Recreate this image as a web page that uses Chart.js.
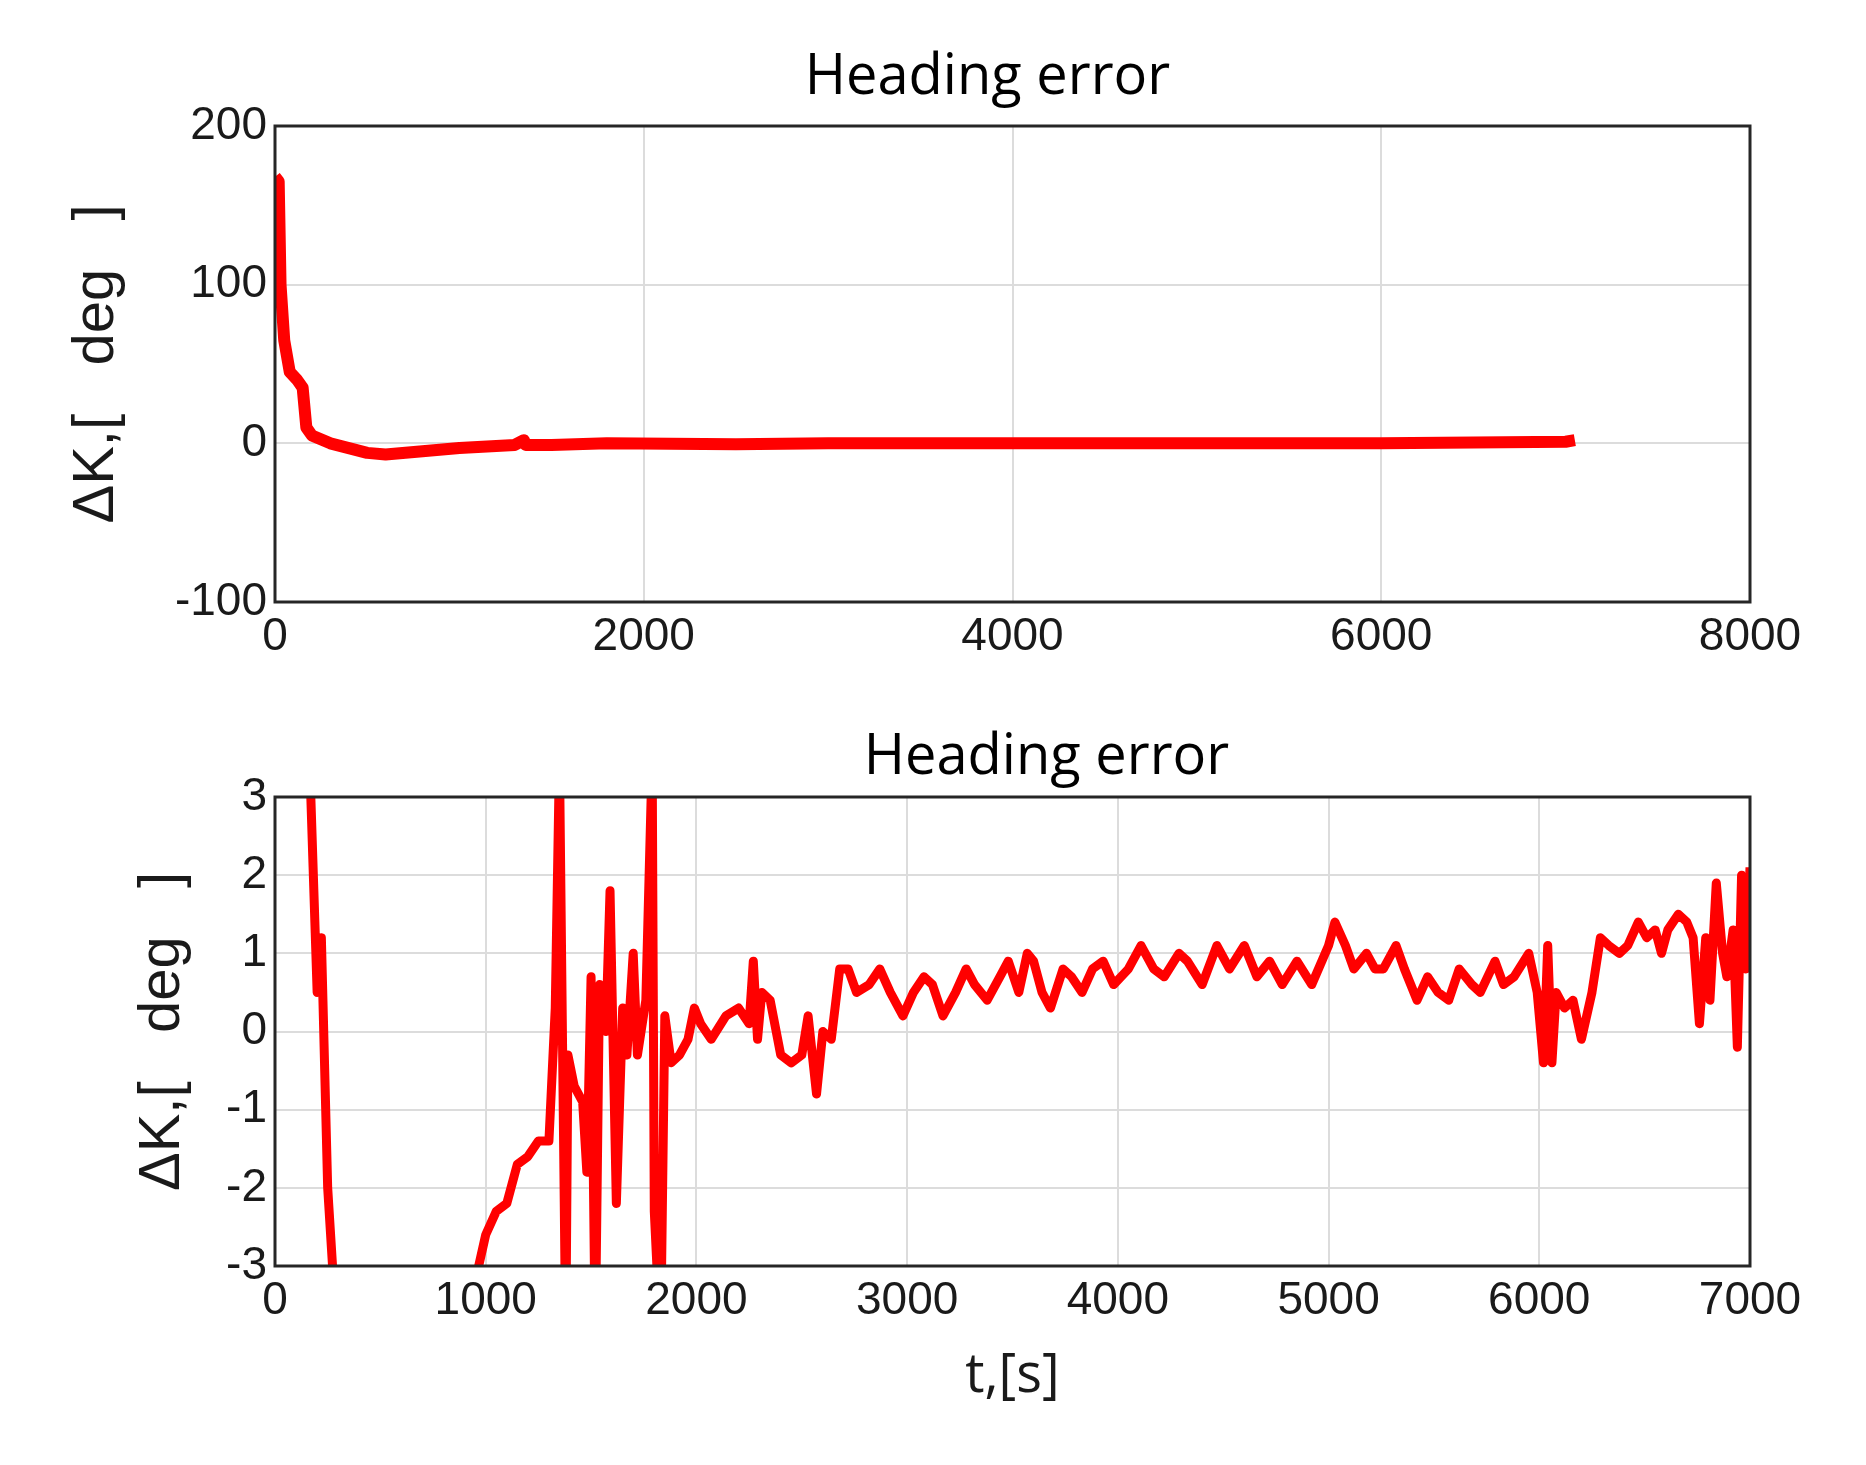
<!DOCTYPE html>
<html>
<head>
<meta charset="utf-8">
<script src="https://cdn.jsdelivr.net/npm/chart.js@4.4.1/dist/chart.umd.min.js"></script>
<style>
  body { margin: 0; background: #fff; }
  .box { position: absolute; left: 0; width: 1866px; }
</style>
</head>
<body>
<div class="box" style="top:0;height:700px"><canvas id="topChart"></canvas></div>
<div class="box" style="top:700px;height:765px"><canvas id="bottomChart"></canvas></div>
<script>
// top panel: full time history
const topTime = [0, 20, 30, 50, 80, 120, 150, 170, 200, 300, 400, 500, 600, 800, 1000, 1300, 1350, 1360, 1500, 1800, 2500, 3000, 4000, 5000, 6000, 6500, 7000, 7050];
const topErr = [168, 165, 100, 65, 45, 40, 35, 10, 5, 0, -3, -6, -7, -5, -3, -1, 2, -1, -1, 0, -0.5, 0, 0, 0, 0, 0.5, 1, 2];
const topXTicks = [0, 2000, 4000, 6000, 8000];
const topYTicks = [-100, 0, 100, 200];

// bottom panel: zoomed view
const botTime = [150, 170, 200, 220, 250, 280, 300, 400, 700, 950, 1000, 1050, 1100, 1150, 1200, 1250, 1300, 1330, 1350, 1380, 1390, 1420, 1460, 1480, 1500, 1520, 1540, 1570, 1590, 1620, 1650, 1670, 1700, 1720, 1760, 1790, 1800, 1830, 1850, 1880, 1920, 1960, 1990, 2020, 2070, 2140, 2200, 2250, 2270, 2290, 2310, 2350, 2400, 2450, 2500, 2530, 2570, 2600, 2640, 2680, 2720, 2760, 2820, 2870, 2920, 2980, 3030, 3080, 3120, 3170, 3230, 3280, 3320, 3380, 3440, 3480, 3530, 3570, 3600, 3640, 3680, 3740, 3780, 3830, 3880, 3930, 3980, 4050, 4110, 4170, 4220, 4290, 4330, 4400, 4470, 4530, 4600, 4660, 4720, 4780, 4850, 4920, 5000, 5030, 5080, 5120, 5180, 5220, 5260, 5320, 5360, 5420, 5470, 5520, 5570, 5620, 5680, 5720, 5790, 5830, 5880, 5950, 5990, 6020, 6040, 6060, 6080, 6120, 6160, 6200, 6250, 6290, 6330, 6380, 6420, 6470, 6510, 6550, 6580, 6610, 6660, 6700, 6730, 6760, 6790, 6810, 6840, 6870, 6890, 6920, 6940, 6960, 6980, 7000];
const botErr = [3.2, 3, 0.5, 1.2, -2, -3.3, -5, -8, -6, -3.2, -2.6, -2.3, -2.2, -1.7, -1.6, -1.4, -1.4, 0.3, 3.5, -4, -0.3, -0.7, -0.9, -1.8, 0.7, -4, 0.6, 0, 1.8, -2.2, 0.3, -0.3, 1, -0.3, 0.4, 3.5, -2.3, -4, 0.2, -0.4, -0.3, -0.1, 0.3, 0.1, -0.1, 0.2, 0.3, 0.1, 0.9, -0.1, 0.5, 0.4, -0.3, -0.4, -0.3, 0.2, -0.8, 0, -0.1, 0.8, 0.8, 0.5, 0.6, 0.8, 0.5, 0.2, 0.5, 0.7, 0.6, 0.2, 0.5, 0.8, 0.6, 0.4, 0.7, 0.9, 0.5, 1.0, 0.9, 0.5, 0.3, 0.8, 0.7, 0.5, 0.8, 0.9, 0.6, 0.8, 1.1, 0.8, 0.7, 1.0, 0.9, 0.6, 1.1, 0.8, 1.1, 0.7, 0.9, 0.6, 0.9, 0.6, 1.1, 1.4, 1.1, 0.8, 1.0, 0.8, 0.8, 1.1, 0.8, 0.4, 0.7, 0.5, 0.4, 0.8, 0.6, 0.5, 0.9, 0.6, 0.7, 1.0, 0.5, -0.4, 1.1, -0.4, 0.5, 0.3, 0.4, -0.1, 0.5, 1.2, 1.1, 1.0, 1.1, 1.4, 1.2, 1.3, 1.0, 1.3, 1.5, 1.4, 1.2, 0.1, 1.2, 0.4, 1.9, 1.0, 0.7, 1.3, -0.2, 2.0, 0.8, 2.1];
const botXTicks = [0, 1000, 2000, 3000, 4000, 5000, 6000, 7000];
const botYTicks = [-3, -2, -1, 0, 1, 2, 3];

const tickFont = { family: 'Liberation Sans, Arial, sans-serif', size: 46 };

// frame around the plot area plus the panel title (placed off-centre like the original)
const frame = {
    id: 'frame',
    afterDraw(chart, args, opts) {
        const a = chart.chartArea, c = chart.ctx;
        c.save();
        c.strokeStyle = '#262626';
        c.lineWidth = 3;
        c.strokeRect(a.left, a.top, a.right - a.left, a.bottom - a.top);
        c.fillStyle = '#000';
        c.font = '56px "Open Sans", sans-serif';
        c.textAlign = 'center';
        c.textBaseline = 'middle';
        c.fillText('Heading error', a.left + opts.frac * (a.right - a.left), opts.y);
        c.restore();
    }
};

function makeChart(id, xs, ys, xTicks, yTicks, o) {
    const pts = xs.map((x, i) => ({ x: x, y: ys[i] }));
    return new Chart(document.getElementById(id), {
        type: 'line',
        data: { datasets: [{ data: pts, borderColor: '#ff0000', borderWidth: o.lw, pointRadius: 0, tension: 0, borderJoinStyle: 'round' }] },
        options: {
            responsive: true,
            maintainAspectRatio: false,
            animation: false,
            layout: { padding: { right: 116, top: o.padTop, left: 0 } },
            plugins: {
                legend: { display: false },
                tooltip: { enabled: false },
                title: { display: false },
                frame: { frac: o.titleFrac, y: o.titleY }
            },
            scales: {
                x: {
                    type: 'linear', min: xTicks[0], max: xTicks[xTicks.length - 1],
                    afterBuildTicks: ax => { ax.ticks = xTicks.map(v => ({ value: v })); },
                    ticks: { color: '#1a1a1a', font: tickFont, maxRotation: 0, padding: 8, callback: v => String(v) },
                    grid: { color: '#dcdcdc', lineWidth: 2, drawTicks: false },
                    border: { display: false },
                    title: { display: !!o.xTitle, text: o.xTitle || '', color: '#1a1a1a', font: { family: 'Open Sans, sans-serif', size: 54 }, padding: { top: 0, bottom: 56 } },
                    afterFit: ax => { ax.height = o.xH; }
                },
                y: {
                    min: yTicks[0], max: yTicks[yTicks.length - 1],
                    afterBuildTicks: ax => { ax.ticks = yTicks.map(v => ({ value: v })); },
                    ticks: { color: '#1a1a1a', font: tickFont, padding: 8, callback: v => String(v) },
                    grid: { color: '#dcdcdc', lineWidth: 2, drawTicks: false },
                    border: { display: false },
                    title: { display: true, text: 'ΔK,[   deg   ]', color: '#1a1a1a', font: { family: 'Liberation Sans, Arial, sans-serif', size: 58 }, padding: { top: o.yTitleLeft, bottom: 0 } },
                    afterFit: ax => { ax.width = 275; }
                }
            }
        },
        plugins: [frame]
    });
}

makeChart('topChart', topTime, topErr, topXTicks, topYTicks,
    { lw: 12, padTop: 126, xH: 98, yTitleLeft: 62, titleFrac: 0.483, titleY: 78 });
makeChart('bottomChart', botTime, botErr, botXTicks, botYTicks,
    { lw: 9, padTop: 97, xH: 199, xTitle: 't,[s]', yTitleLeft: 128, titleFrac: 0.523, titleY: 58 });
</script>
</body>
</html>
